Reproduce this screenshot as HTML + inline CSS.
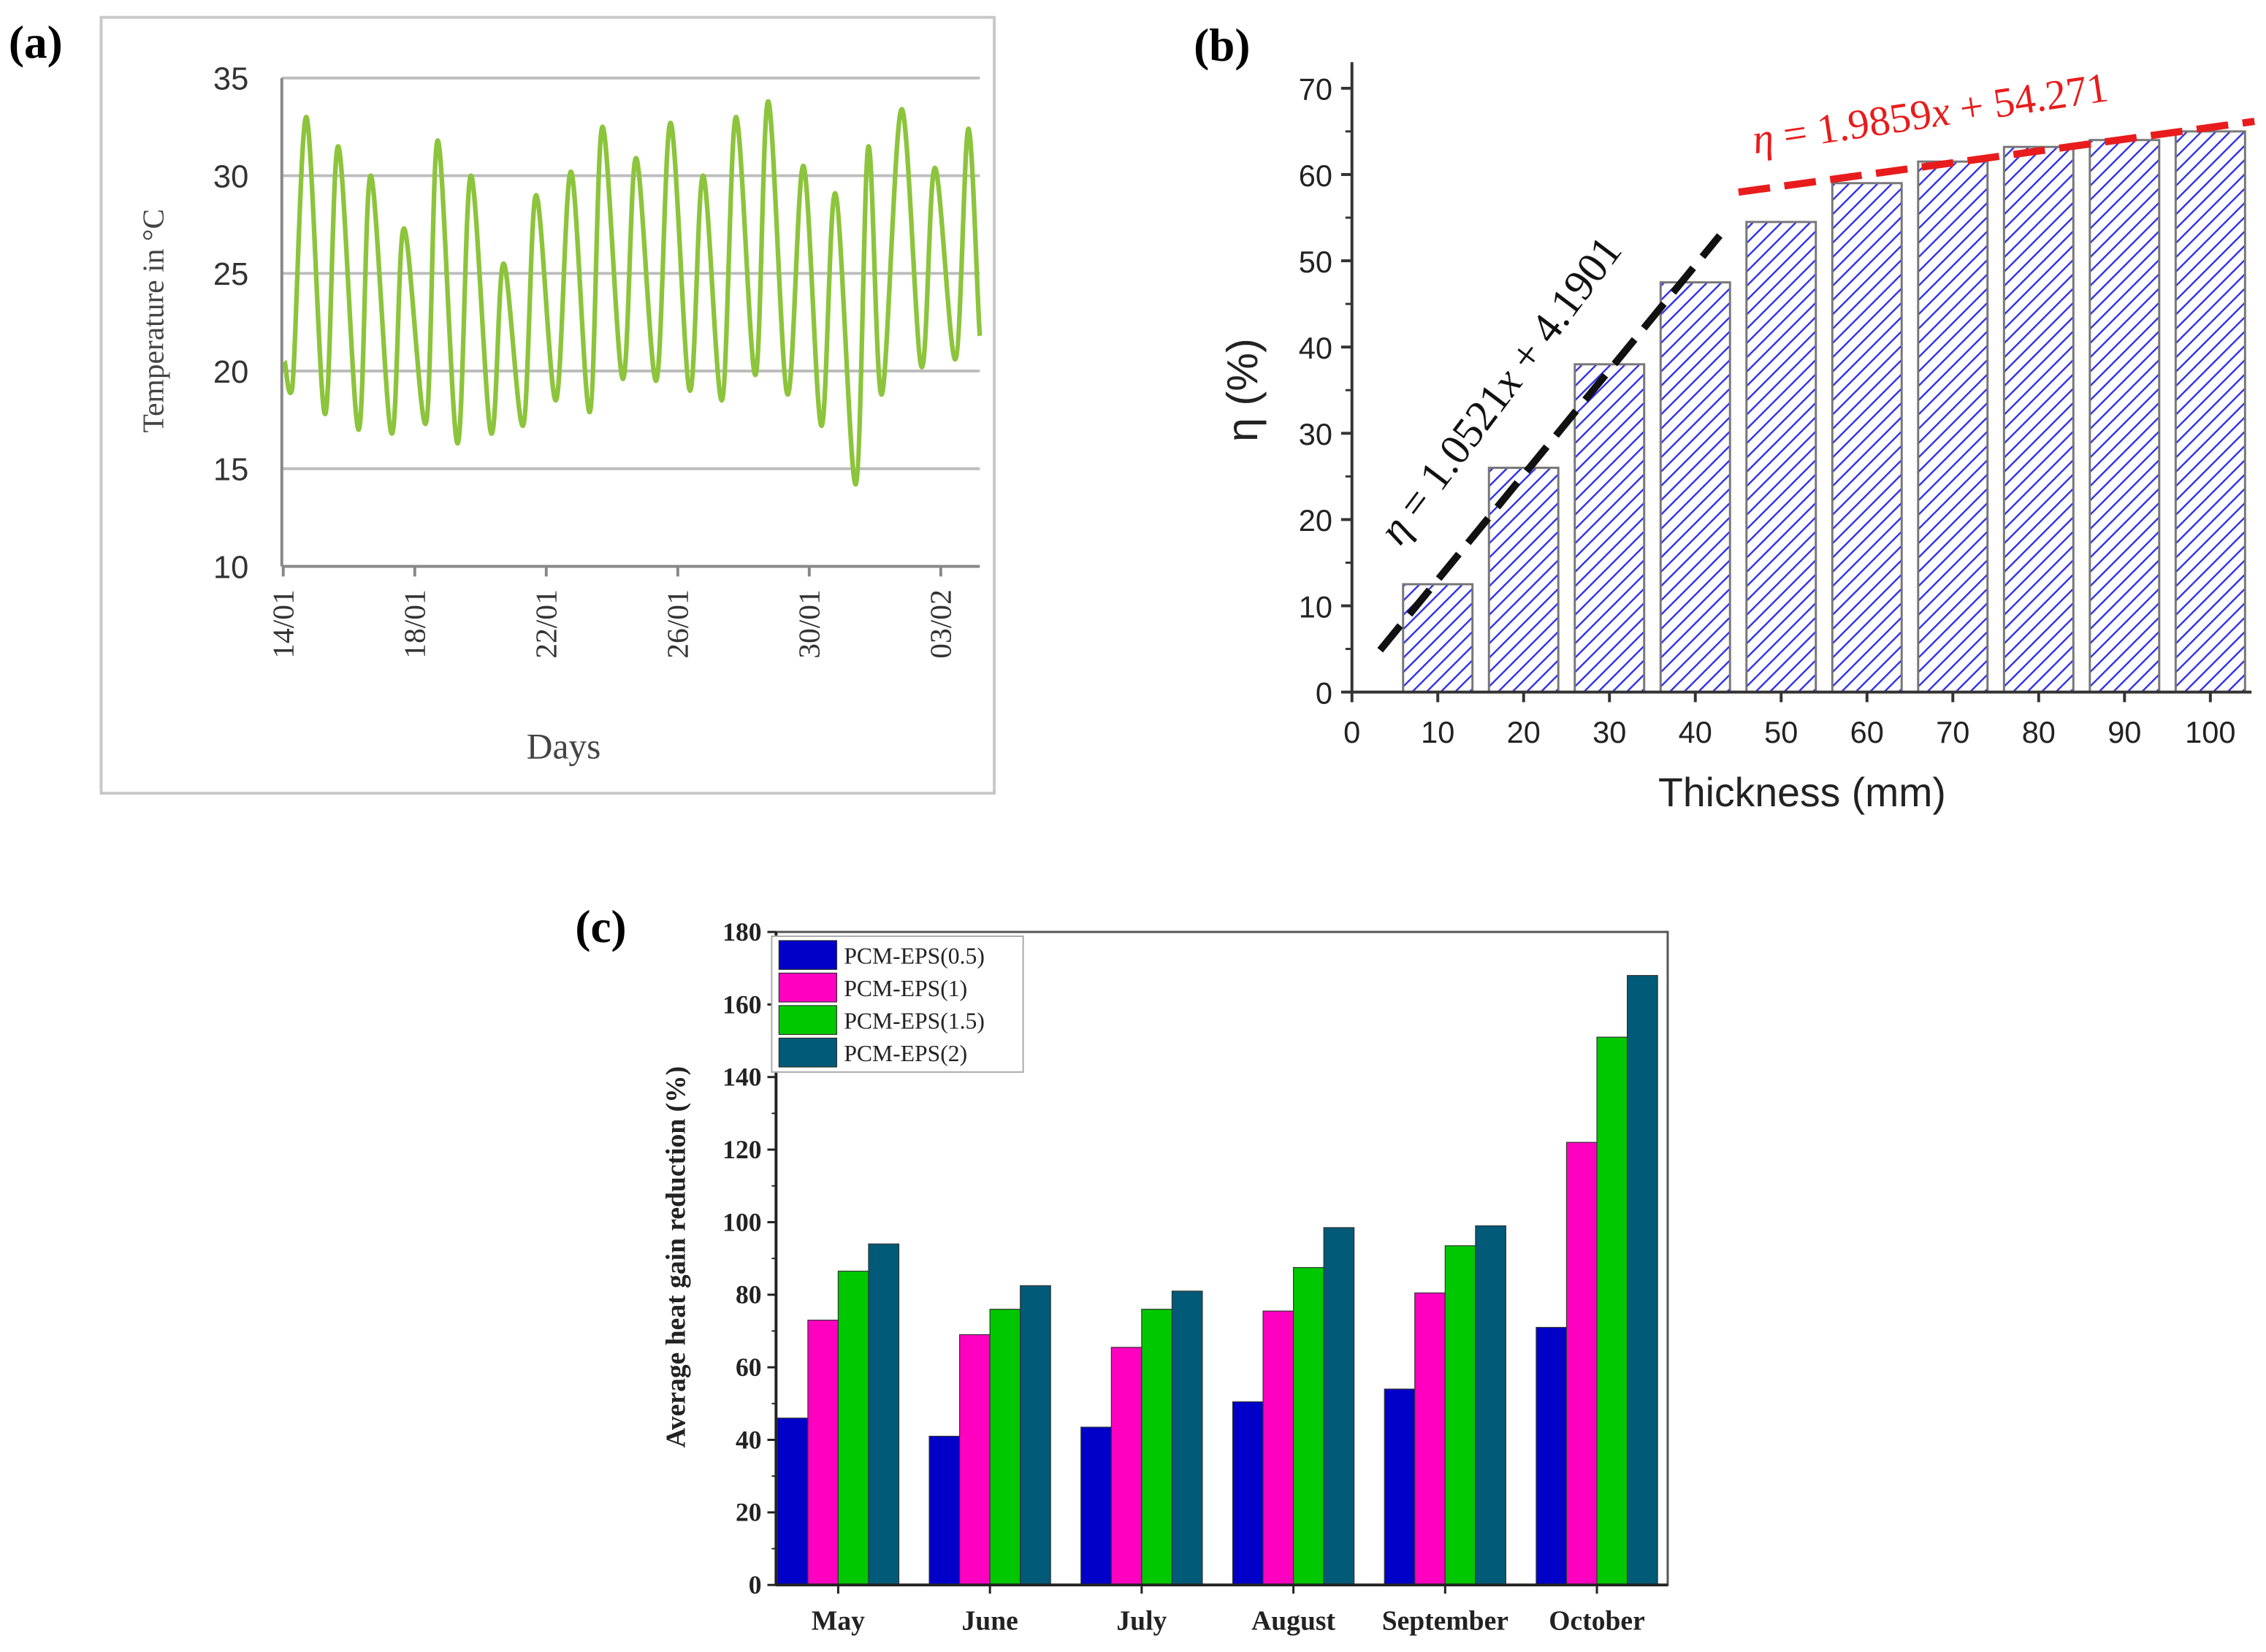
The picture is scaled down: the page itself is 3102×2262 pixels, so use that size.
<!DOCTYPE html>
<html><head><meta charset="utf-8">
<style>html,body{margin:0;padding:0;background:#fff}svg{display:block}</style>
</head><body>
<svg id="fig" xmlns="http://www.w3.org/2000/svg" width="3102" height="2262" viewBox="0 0 1568 1143.4">
<defs>
<pattern id="hatch" patternUnits="userSpaceOnUse" width="7" height="7" patternTransform="rotate(45)">
<rect width="7" height="7" fill="#fff"/>
<line x1="0" y1="0" x2="0" y2="7" stroke="#2f2fe8" stroke-width="2.4"/>
</pattern>
</defs>
<rect width="1568" height="1143.4" fill="#fff"/>
<!-- panel a -->
<g id="pa" font-family="Liberation Serif, serif">
<text x="6" y="40" font-size="32" font-weight="bold">(a)</text>
<rect x="70" y="12" width="618" height="537" fill="none" stroke="#c8c8c8" stroke-width="2"/>
<text transform="translate(113,222) rotate(-90)" text-anchor="middle" font-size="21" fill="#444">Temperature in °C</text>
<text x="390" y="525" text-anchor="middle" font-size="25" fill="#444">Days</text>
</g>
<!-- panel b -->
<g id="pb" font-family="Liberation Sans, sans-serif">
<text x="826" y="42" font-size="32" font-weight="bold" font-family="Liberation Serif, serif">(b)</text>
<text transform="translate(870,270) rotate(-90)" text-anchor="middle" font-size="30" fill="#222">η (%)</text>
<text x="1247" y="558" text-anchor="middle" font-size="28" fill="#222">Thickness (mm)</text>
</g>
<!-- panel c -->
<g id="pc" font-family="Liberation Serif, serif">
<text x="398" y="652" font-size="32" font-weight="bold">(c)</text>
<text transform="translate(474,870) rotate(-90)" text-anchor="middle" font-size="19" font-weight="bold" fill="#222">Average heat gain reduction (%)</text>
</g>
</svg>
<script>
const NS='http://www.w3.org/2000/svg';
function mk(tag,attrs,parent,txt){const e=document.createElementNS(NS,tag);for(const k in attrs)e.setAttribute(k,attrs[k]);if(txt!==undefined)e.textContent=txt;parent.appendChild(e);return e;}

/* ---------- Panel A data ---------- */
const tempDays=[0.04,0.26,0.7,1.27,1.67,2.29,2.66,3.3,3.67,4.33,4.7,5.3,5.71,6.33,6.7,7.29,7.69,8.29,8.75,9.32,9.71,10.33,10.73,11.34,11.78,12.37,12.77,13.34,13.77,14.36,14.75,15.34,15.82,16.37,16.79,17.41,17.8,18.2,18.81,19.42,19.82,20.44,20.84,21.19];
const tempVals=[20.5,19,33,17.8,31.5,17,30,16.8,27.3,17.3,31.8,16.3,30,16.8,25.5,17.2,29,18.5,30.2,17.9,32.5,19.6,30.9,19.5,32.7,19,30,18.5,33,19.8,33.8,18.8,30.5,17.2,29.1,14.2,31.5,18.8,33.4,20.2,30.4,20.6,32.4,21.8];
const aTicksY=[10,15,20,25,30,35];
const aTicksXLabels=['14/01','18/01','22/01','26/01','30/01','03/02'];
const aTicksXDays=[0,4,8,12,16,20];

const pa=document.getElementById('pa');
const ax=d=>196+d*22.75, ay=v=>392-(v-10)*13.52;
aTicksY.forEach(v=>{
  const g=mk('line',{x1:195,x2:678,y1:ay(v),y2:ay(v),stroke:v===10?'#888':'#bdbdbd','stroke-width':2},pa);
  
  
  const t=mk('text',{x:172,y:ay(v)+8,'text-anchor':'end','font-size':22,fill:'#333','font-family':'Liberation Sans, sans-serif'},pa,String(v));
  
  
});
const yax=mk('line',{x1:195,x2:195,y1:ay(35),y2:ay(10),stroke:'#888','stroke-width':2},pa);


aTicksXDays.forEach((d,i)=>{
  const tk=mk('line',{x1:ax(d),x2:ax(d),y1:392,y2:399,stroke:'#888','stroke-width':2},pa);
  
  
  const t=mk('text',{transform:`translate(${ax(d)+7},408) rotate(-90)`,'text-anchor':'end','font-size':21,fill:'#333'},pa,aTicksXLabels[i]);
  
  
});
(function(){
  const P=tempDays.map((d,i)=>[ax(d),ay(tempVals[i])]);
  let s=`M${P[0][0]},${P[0][1]}`;
  for(let i=0;i<P.length-1;i++){
    const p0=P[Math.max(i-1,0)],p1=P[i],p2=P[i+1],p3=P[Math.min(i+2,P.length-1)];
    const c1=[p1[0]+(p2[0]-p0[0])/6,p1[1]+(p2[1]-p0[1])/6*0.3];
    const c2=[p2[0]-(p3[0]-p1[0])/6,p2[1]-(p3[1]-p1[1])/6*0.3];
    s+=` C${c1[0]},${c1[1]} ${c2[0]},${c2[1]} ${p2[0]},${p2[1]}`;
  }
  const l=mk('path',{d:s,fill:'none',stroke:'#8cc43c','stroke-width':3.2,'stroke-linejoin':'round'},pa);
  
  
})();

/* ---------- Panel B data ---------- */
const thickCats=[10,20,30,40,50,60,70,80,90,100];
const etaVals=[12.5,26,38,47.5,54.5,59,61.5,63.2,64,65];
const bTicksX=[0,10,20,30,40,50,60,70,80,90,100];
const bTicksY=[0,10,20,30,40,50,60,70];

const pb=document.getElementById('pb');
const bx=v=>935.5+v*5.94, by=v=>479-v*5.97;
thickCats.forEach((c,i)=>{
  const r=mk('rect',{x:bx(c)-24,y:by(etaVals[i]),width:48,height:by(0)-by(etaVals[i]),fill:'url(#hatch)',stroke:'#777','stroke-width':1.5},pb);
  
  
});
const bxa=mk('line',{x1:935.5,x2:1558,y1:479,y2:479,stroke:'#333','stroke-width':2},pb);


const bya=mk('line',{x1:935.5,x2:935.5,y1:43,y2:479,stroke:'#333','stroke-width':2},pb);


bTicksY.forEach(v=>{
  const tk=mk('line',{x1:928,x2:935.5,y1:by(v),y2:by(v),stroke:'#333','stroke-width':2},pb);
  
  
  if(v<70){const m=mk('line',{x1:931,x2:935.5,y1:by(v+5),y2:by(v+5),stroke:'#333','stroke-width':1.5},pb);
  
  }
  const t=mk('text',{x:922,y:by(v)+8,'text-anchor':'end','font-size':21,fill:'#222'},pb,String(v));
  
  
});
bTicksX.forEach(v=>{
  const tk=mk('line',{x1:bx(v),x2:bx(v),y1:479,y2:486,stroke:'#333','stroke-width':2},pb);
  
  
  const t=mk('text',{x:bx(v),y:514,'text-anchor':'middle','font-size':21,fill:'#222'},pb,String(v));
  
  
});
const fit1=mk('line',{x1:955,y1:450,x2:1190,y2:163,stroke:'#111','stroke-width':5,'stroke-dasharray':'22 10'},pb);


const fit2=mk('line',{x1:1203,y1:133,x2:1560,y2:84,stroke:'#e81c1c','stroke-width':5,'stroke-dasharray':'22 10'},pb);


const eq1=mk('text',{transform:'translate(1046,276) rotate(-53)','text-anchor':'middle','font-size':30,fill:'#111','font-family':'Liberation Serif, serif'},pb);


eq1.innerHTML='<tspan font-style="italic">η</tspan> = 1.0521<tspan font-style="italic">x</tspan> + 4.1901';
const eq2=mk('text',{transform:'translate(1337,88) rotate(-8.5)','text-anchor':'middle','font-size':29,fill:'#e81c1c','font-family':'Liberation Serif, serif'},pb);


eq2.innerHTML='<tspan font-style="italic">η</tspan> = 1.9859<tspan font-style="italic">x</tspan> + 54.271';

/* ---------- Panel C data ---------- */
const months=['May','June','July','August','September','October'];
const s05=[46,41,43.5,50.5,54,71];
const s1=[73,69,65.5,75.5,80.5,122];
const s15=[86.5,76,76,87.5,93.5,151];
const s2=[94,82.5,81,98.5,99,168];
const seriesNames=['PCM-EPS(0.5)','PCM-EPS(1)','PCM-EPS(1.5)','PCM-EPS(2)'];
const cTicksY=[0,20,40,60,80,100,120,140,160,180];

const pc=document.getElementById('pc');
const colors=['#0000c8','#ff00c0','#00c800','#005a78'];
const allS=[s05,s1,s15,s2];
const cx=i=>580+i*105, cy=v=>1097-v*2.511;
const fr=mk('rect',{x:537,y:cy(180),width:617,height:cy(0)-cy(180),fill:'none',stroke:'#555','stroke-width':1.5},pc);


months.forEach((m,i)=>{
  allS.forEach((s,k)=>{
    const r=mk('rect',{x:cx(i)-42+k*21,y:cy(s[i]),width:21,height:cy(0)-cy(s[i]),fill:colors[k],stroke:'#333','stroke-width':0.6},pc);
    
    
  });
  const tk=mk('line',{x1:cx(i),x2:cx(i),y1:1097,y2:1103,stroke:'#222','stroke-width':1.5},pc);
  
  
  const t=mk('text',{x:cx(i),y:1128,'text-anchor':'middle','font-size':19,'font-weight':'bold',fill:'#222'},pc,m);
  
  
});
const cax=mk('line',{x1:537,x2:1154,y1:1097,y2:1097,stroke:'#222','stroke-width':2},pc);


const cya=mk('line',{x1:537,x2:537,y1:cy(180),y2:1097,stroke:'#222','stroke-width':2},pc);


cTicksY.forEach(v=>{
  const tk=mk('line',{x1:531,x2:537,y1:cy(v),y2:cy(v),stroke:'#222','stroke-width':1.5},pc);
  
  
  if(v<180){const m=mk('line',{x1:534,x2:537,y1:cy(v+10),y2:cy(v+10),stroke:'#222','stroke-width':1},pc);
  
  }
  const t=mk('text',{x:527,y:cy(v)+6,'text-anchor':'end','font-size':18,'font-weight':'bold',fill:'#222'},pc,String(v));
  
  
});
const lg=mk('g',{},pc);


const lb=mk('rect',{x:534,y:648,width:174,height:94,fill:'#fff',stroke:'#aaa','stroke-width':1},lg);


seriesNames.forEach((n,k)=>{
  const sw=mk('rect',{x:539,y:651+k*22.5,width:40,height:20,fill:colors[k],stroke:'#333','stroke-width':0.6},lg);
  
  
  const t=mk('text',{x:584,y:667+k*22.5,'font-size':16,fill:'#222'},lg,n);
  
  
});
</script>
</body></html>
